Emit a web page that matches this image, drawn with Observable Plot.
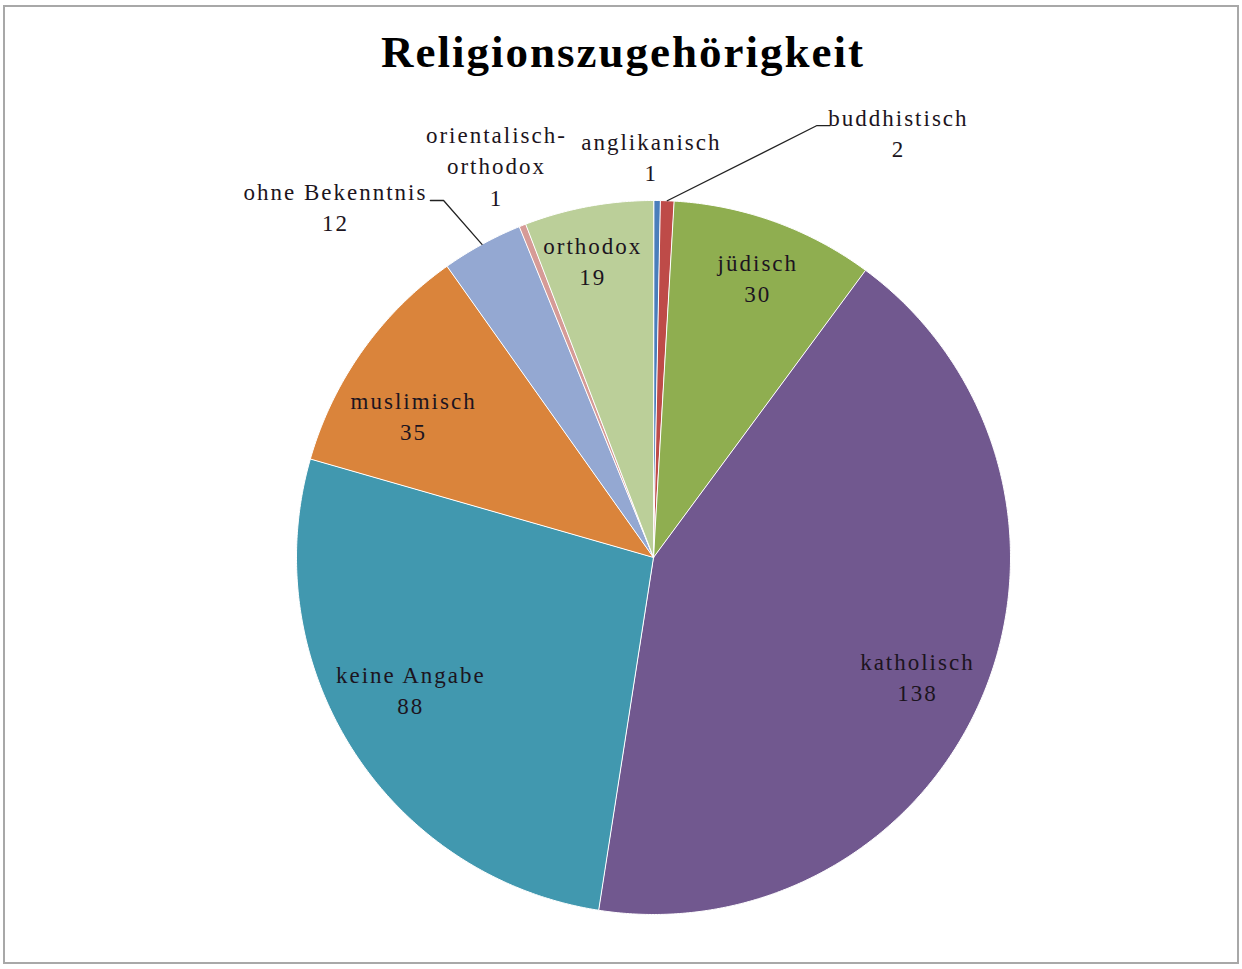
<!DOCTYPE html>
<html><head><meta charset="utf-8">
<script src="https://cdn.jsdelivr.net/npm/d3@7"></script>
<script src="https://cdn.jsdelivr.net/npm/@observablehq/plot@0.6"></script>
<style>
body{margin:0;background:#fff;}
#wrap{position:relative;width:1242px;height:969px;overflow:hidden;font-family:"Liberation Serif","Times New Roman",serif;background:#fff;}
#frame{position:absolute;left:3px;top:5px;width:1236px;height:959px;border:2px solid #a8a8a8;box-sizing:border-box;}
#title{position:absolute;left:0;top:0;width:1246px;height:100px;box-sizing:border-box;padding-top:30px;text-align:center;font-size:45px;line-height:45px;font-weight:bold;letter-spacing:2px;color:#000;}
#chart{position:absolute;left:0;top:100px;}
#chart svg text{letter-spacing:2px;}
</style>
</head><body>
<div id="wrap">
  <div id="frame"></div>
  <div id="title">Religionszugehörigkeit</div>
  <div id="chart"></div>
</div>
<script>
// ---- data ----
const categories = ["anglikanisch","buddhistisch","jüdisch","katholisch","keine Angabe","muslimisch","ohne Bekenntnis","orientalisch-orthodox","orthodox"];
const values = [1, 2, 30, 138, 88, 35, 12, 1, 19];
const labelTexts = ["anglikanisch","buddhistisch","jüdisch","katholisch","keine Angabe","muslimisch","ohne Bekenntnis","orientalisch-\northodox","orthodox"];
const colors = ["#4A7EBB","#BE4B48","#8FAE50","#71588F","#4198AF","#DA843B","#94A8D2","#D69B97","#BBCF99"];

// ---- layout ----
const W = 1242, H = 869;
const cx = 653, cy = 457, R = 357;
const insideR = 0.81;
// pixel nudges for inside labels (Excel "best fit" placement)
const nudge = {
  "jüdisch": [6, -9],
  "katholisch": [-3, 7],
  "keine Angabe": [1, -25],
  "muslimisch": [-4, 24],
  "orthodox": [-8, -14]
};
// outside label anchors (unit-circle coordinates) and leader line elbows
const outside = {
  "anglikanisch": {x: -0.006, y: 1.126},
  "buddhistisch": {x: 0.686, y: 1.194, leader: [[0.458, 1.21], [0.495, 1.21]]},
  "ohne Bekenntnis": {x: -0.891, y: 0.987, leader: [[-0.588, 1.0], [-0.625, 1.0]]},
  "orientalisch-orthodox": {x: -0.44, y: 1.101}
};

const rows = categories.map((c, i) => ({name: c, value: values[i], label: labelTexts[i]}));
const arcs = d3.pie().sort(null).value(d => d.value)(rows);

const slicePts = [];
arcs.forEach(a => {
  const n = Math.max(2, Math.ceil((a.endAngle - a.startAngle) / (Math.PI / 360)));
  slicePts.push({name: a.data.name, x: 0, y: 0});
  for (let k = 0; k <= n; k++) {
    const t = a.startAngle + (a.endAngle - a.startAngle) * k / n;
    slicePts.push({name: a.data.name, x: Math.sin(t), y: Math.cos(t)});
  }
});

const labels = arcs.map(a => {
  const mid = (a.startAngle + a.endAngle) / 2;
  const o = outside[a.data.name];
  const nd = nudge[a.data.name] || [0, 0];
  return {
    name: a.data.name,
    text: a.data.label + "\n" + a.data.value,
    x: o ? o.x : insideR * Math.sin(mid) + nd[0] / R,
    y: o ? o.y : insideR * Math.cos(mid) - nd[1] / R
  };
});

const leaders = [];
arcs.forEach(a => {
  const o = outside[a.data.name];
  if (!o || !o.leader) return;
  const mid = (a.startAngle + a.endAngle) / 2;
  leaders.push({name: a.data.name, x: Math.sin(mid), y: Math.cos(mid)});
  o.leader.forEach(p => leaders.push({name: a.data.name, x: p[0], y: p[1]}));
});

const chart = Plot.plot({
  width: W, height: H,
  margin: 0,
  x: {domain: [-cx / R, (W - cx) / R], axis: null},
  y: {domain: [-(H - cy) / R, cy / R], axis: null},
  color: {domain: categories, range: colors},
  style: {fontFamily: "'Liberation Serif','Times New Roman',serif", background: "transparent", overflow: "visible"},
  marks: [
    Plot.line(slicePts, {x: "x", y: "y", z: "name", fill: "name", stroke: "#ffffff", strokeWidth: 1, curve: "linear-closed"}),
    Plot.line(leaders, {x: "x", y: "y", z: "name", stroke: "#222", strokeWidth: 1.3}),
    Plot.text(labels, {x: "x", y: "y", text: "text", fontSize: 23, lineHeight: 1.36, fill: "#1c1420", textAnchor: "middle"})
  ]
});
document.getElementById("chart").appendChild(chart);
</script>
</body></html>
